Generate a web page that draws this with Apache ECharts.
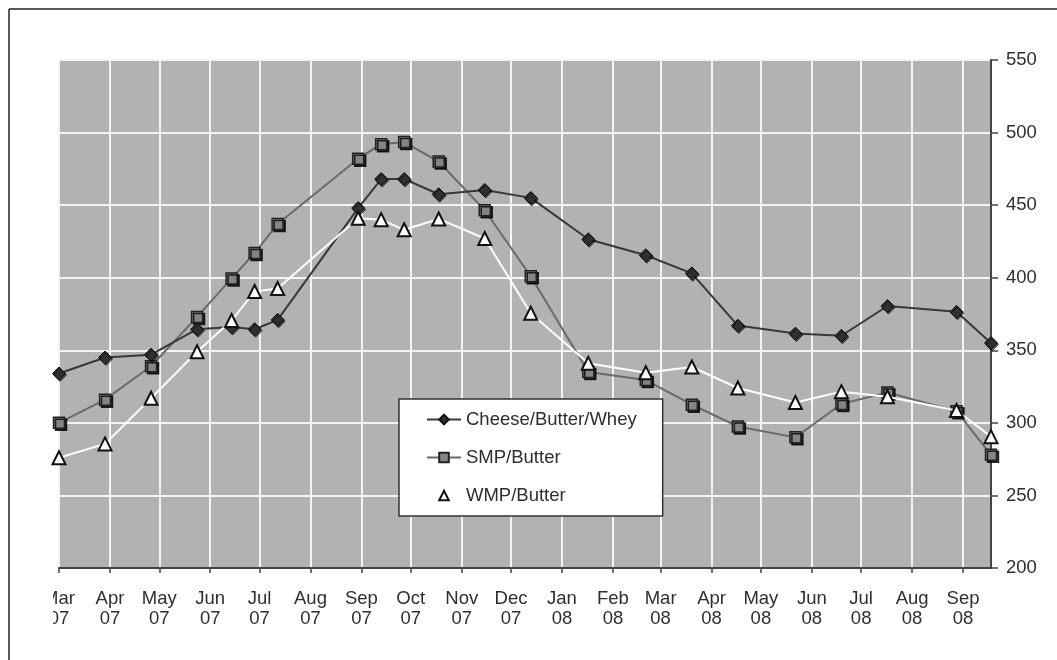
<!DOCTYPE html>
<html>
<head>
<meta charset="utf-8">
<script src="https://cdn.jsdelivr.net/npm/echarts@6/dist/echarts.min.js"></script>
<style>
html,body{margin:0;padding:0;background:#fff;}
#chart{width:1057px;height:660px;}
</style>
</head>
<body>
<div id="chart"></div>
<script>
const dates = ['2007-03-01','2007-03-29','2007-04-26','2007-05-24','2007-06-14','2007-06-28','2007-07-12',
  '2007-08-30','2007-09-13','2007-09-27','2007-10-18','2007-11-15','2007-12-13','2008-01-17','2008-02-21',
  '2008-03-20','2008-04-17','2008-05-22','2008-06-19','2008-07-17','2008-08-28','2008-09-18'];
const cheese = [334,345,347,364.5,366,364.5,371,448,468,468,457.5,460.5,455,426.5,415.5,403,367,361.5,360,380.5,376.5,355];
const smp = [300,316,339,373,399.5,417,437,482,492,493.5,480,446.5,401,335,329.5,312.5,297.5,290,313,321,308,278];
const wmp = [276,285.5,317,349,370.5,390.5,392.5,441,440,433,440.5,427,375.5,341,334.5,338.5,324,314,321.5,318,308.5,290.5];
const seriesNames = ['Cheese/Butter/Whey','SMP/Butter','WMP/Butter'];
const monthNames = ['Jan','Feb','Mar','Apr','May','Jun','Jul','Aug','Sep','Oct','Nov','Dec'];

function ts(s){ const p = s.split('-').map(Number); return Date.UTC(p[0], p[1]-1, p[2]); }
function pairs(vals){ return dates.map((d,i)=>[ts(d), vals[i]]); }

const FONT = "'Liberation Sans', Arial, sans-serif";
const chart = echarts.init(document.getElementById('chart'), null, {renderer:'canvas'});
const DAY = 86400000;

const option = {
  useUTC: true,
  animation: false,
  backgroundColor: '#ffffff',
  grid: {
    left: 59, right: 66, top: 60, bottom: 92,
    containLabel: false, outerBoundsMode: 'none',
    show: true, backgroundColor: '#b2b2b2', borderWidth: 0
  },
  legend: {
    orient: 'vertical',
    left: 399, top: 399,
    backgroundColor: '#ffffff',
    borderColor: '#333333', borderWidth: 1.5, borderRadius: 0,
    padding: [11, 26, 11, 27],
    itemWidth: 34, itemHeight: 12, itemGap: 19,
    textStyle: { fontFamily: FONT, fontSize: 18.5, color: '#2e2e2e' },
    data: seriesNames
  },
  xAxis: {
    type: 'time',
    min: ts(dates[0]), max: ts(dates[dates.length-1]),
    splitNumber: 20,
    minInterval: 27*DAY, maxInterval: 32*DAY,
    axisLine: { show: true, lineStyle: { color: '#444444', width: 2 } },
    axisTick: { show: true, length: 5, lineStyle: { color: '#444444', width: 1.5 } },
    splitLine: { show: true, lineStyle: { color: '#f4f4f4', width: 2 } },
    axisLabel: {
      showMaxLabel: false,
      margin: 21,
      fontFamily: FONT, fontSize: 18.5, color: '#2e2e2e', lineHeight: 20,
      formatter: function(v){
        const d = new Date(v);
        return monthNames[d.getUTCMonth()] + '\n' + String(d.getUTCFullYear()).slice(2);
      }
    }
  },
  yAxis: {
    type: 'value', position: 'right',
    min: 200, max: 550, interval: 50,
    axisLine: { show: true, lineStyle: { color: '#444444', width: 2 } },
    axisTick: { show: true, inside: false, length: 7, lineStyle: { color: '#444444', width: 1.5 } },
    splitLine: { show: true, lineStyle: { color: '#f4f4f4', width: 2 } },
    axisLabel: { margin: 15, fontFamily: FONT, fontSize: 18.5, color: '#2e2e2e' }
  },
  graphic: [
    { type: 'rect', z: 100, shape: { x: 10, y: 574, width: 43, height: 80 }, style: { fill: '#ffffff' } },
    { type: 'line', z: 101, shape: { x1: 9, y1: 9, x2: 1057, y2: 9 }, style: { stroke: '#222222', lineWidth: 1.5 } },
    { type: 'line', z: 101, shape: { x1: 9, y1: 9, x2: 9, y2: 660 }, style: { stroke: '#222222', lineWidth: 1.5 } }
  ],
  series: [
    {
      name: seriesNames[0], type: 'line', data: pairs(cheese),
      symbol: 'diamond', symbolSize: 13, z: 4,
      lineStyle: { color: '#383838', width: 2 },
      itemStyle: { color: '#303030', borderColor: '#111111', borderWidth: 1,
                   shadowColor: 'rgba(0,0,0,0.6)', shadowOffsetX: 1, shadowOffsetY: 1.5 }
    },
    {
      name: seriesNames[1], type: 'line', data: pairs(smp),
      symbol: 'rect', symbolSize: 11, z: 3,
      lineStyle: { color: '#6a6a6a', width: 2 },
      itemStyle: { color: '#858585', borderColor: '#222222', borderWidth: 1.5,
                   shadowColor: 'rgba(0,0,0,0.8)', shadowOffsetX: 2, shadowOffsetY: 2 }
    },
    {
      name: seriesNames[2], type: 'line', data: pairs(wmp),
      symbol: 'triangle', symbolSize: 13, z: 5,
      lineStyle: { color: '#ffffff', width: 2 },
      itemStyle: { color: '#ffffff', borderColor: '#111111', borderWidth: 2 }
    }
  ]
};
chart.setOption(option);
</script>
</body>
</html>
